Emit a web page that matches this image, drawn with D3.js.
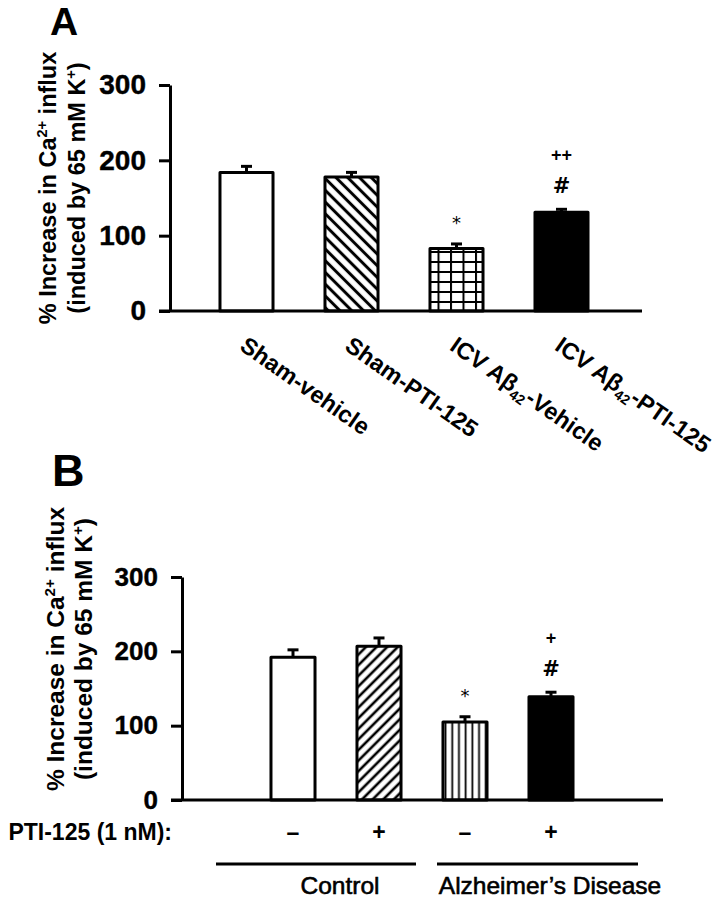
<!DOCTYPE html>
<html>
<head>
<meta charset="utf-8">
<script src="https://cdn.jsdelivr.net/npm/d3@7/dist/d3.min.js"></script>
<style>
  html, body { margin: 0; padding: 0; background: #fff; }
  svg { display: block; font-family: "Liberation Sans", Arial, sans-serif; }
</style>
</head>
<body>
<script>
// ---------- Data ----------
const categoriesA = ["Sham-vehicle", "Sham-PTI-125", "ICV Aβ42-Vehicle", "ICV Aβ42-PTI-125"];
const valuesA = [184, 178, 83, 131];
const errorsA = [8, 6, 6, 4];
const sigLowA = ["", "", "*", "#"];
const sigHighA = ["", "", "", "++"];
const fillsA = ["white", "diagDown", "grid", "black"];

const categoriesB = ["c-", "c+", "ad-", "ad+"];
const treatmentB = ["–", "+", "–", "+"];
const valuesB = [192, 207, 105, 139];
const errorsB = [10, 11, 7, 6];
const sigLowB = ["", "", "*", "#"];
const sigHighB = ["", "", "", "+"];
const fillsB = ["white", "diagUp", "vert", "black"];
const groupsB = ["Control", "Alzheimer’s Disease"];

const yTicks = [0, 100, 200, 300];

// ---------- SVG ----------
const W = 722, H = 899;
const svg = d3.select("body").append("svg").attr("width", W).attr("height", H);
const defs = svg.append("defs");

function linePattern(id, spacing, angle, sw) {
  const p = defs.append("pattern").attr("id", id)
    .attr("patternUnits", "userSpaceOnUse")
    .attr("width", spacing).attr("height", spacing)
    .attr("patternTransform", `rotate(${angle})`);
  p.append("rect").attr("width", spacing).attr("height", spacing).attr("fill", "white");
  p.append("line").attr("x1", spacing / 2).attr("y1", 0).attr("x2", spacing / 2).attr("y2", spacing)
    .attr("stroke", "black").attr("stroke-width", sw);
}
linePattern("diagDown", 8.3, -45, 3);
linePattern("diagUp", 7.5, 45, 2.6);
linePattern("vert", 6.7, 0, 1.8);
{
  const p = defs.append("pattern").attr("id", "grid")
    .attr("patternUnits", "userSpaceOnUse").attr("width", 12.5).attr("height", 10)
    .attr("x", 0).attr("y", 1);
  p.append("rect").attr("width", 12.5).attr("height", 10).attr("fill", "white");
  p.append("line").attr("x1", 1).attr("y1", 0).attr("x2", 1).attr("y2", 10).attr("stroke", "black").attr("stroke-width", 2);
  p.append("line").attr("x1", 0).attr("y1", 1).attr("x2", 12.5).attr("y2", 1).attr("stroke", "black").attr("stroke-width", 2);
}
function fillOf(f) { return (f === "white" || f === "black") ? f : `url(#${f})`; }

function yTitle(g, cy, l1x, l2x, fs) {
  const t1 = g.append("text").attr("transform", `translate(${l1x},${cy}) rotate(-90)`)
    .attr("text-anchor", "middle").attr("font-weight", "bold").attr("font-size", fs);
  t1.append("tspan").text("% Increase in Ca");
  t1.append("tspan").attr("font-size", fs * 0.62).attr("dy", -fs * 0.38).text("2+");
  t1.append("tspan").attr("dy", fs * 0.38).text(" influx");
  const t2 = g.append("text").attr("transform", `translate(${l2x},${cy}) rotate(-90)`)
    .attr("text-anchor", "middle").attr("font-weight", "bold").attr("font-size", fs);
  t2.append("tspan").text("(induced by 65 mM K");
  t2.append("tspan").attr("font-size", fs * 0.62).attr("dy", -fs * 0.38).text("+");
  t2.append("tspan").attr("dy", fs * 0.38).text(")");
}

function panel(opts) {
  const { cats, vals, errs, fills, sigLow, sigHigh, xRange, yRange, pi, po,
          tickFont, axisRight, letter, letterPos, letterSize } = opts;
  const g = svg.append("g");
  const x = d3.scaleBand().domain(cats).range(xRange).paddingInner(pi).paddingOuter(po);
  const y = d3.scaleLinear().domain([0, 300]).range(yRange);
  const bw = x.bandwidth();

  // y axis
  const ya = g.append("g").attr("transform", `translate(${opts.axisX},0)`)
    .call(d3.axisLeft(y).tickValues(yTicks).tickSize(11).tickSizeOuter(0).tickPadding(13).tickFormat(d3.format("d")));
  ya.selectAll("path, line").attr("stroke", "black").attr("stroke-width", 3);
  ya.selectAll("text").attr("font-size", tickFont).attr("font-weight", "bold")
    .attr("font-family", "Liberation Sans, Arial, sans-serif").attr("fill", "black")
    .attr("stroke", "black").attr("stroke-width", 0.4);

  // bars
  cats.forEach((c, i) => {
    const x0 = x(c), top = y(vals[i]), ye = y(vals[i] + errs[i]);
    const cx = x0 + bw / 2;
    g.append("line").attr("x1", cx).attr("x2", cx).attr("y1", top).attr("y2", ye)
      .attr("stroke", "black").attr("stroke-width", 3);
    g.append("line").attr("x1", cx - 5.5).attr("x2", cx + 5.5).attr("y1", ye).attr("y2", ye)
      .attr("stroke", "black").attr("stroke-width", 3);
    g.append("rect").attr("x", x0).attr("y", top).attr("width", bw).attr("height", y(0) - top)
      .attr("fill", fillOf(fills[i])).attr("stroke", "black").attr("stroke-width", 3)
      .attr("stroke-linejoin", "round");
    if (sigLow[i]) {
      const isStar = sigLow[i] === "*";
      g.append("text").attr("x", cx).attr("y", ye - (isStar ? 15 : 16))
        .attr("text-anchor", "middle").attr("font-size", isStar ? 18 : 21)
        .attr("font-family", "DejaVu Sans, sans-serif")
        .attr("font-weight", isStar ? "normal" : "bold").text(sigLow[i]);
    }
    if (sigHigh[i]) {
      g.append("text").attr("x", cx).attr("y", ye - 48)
        .attr("text-anchor", "middle").attr("font-size", 18).attr("font-weight", "bold")
        .text(sigHigh[i]);
    }
  });

  // x axis line
  g.append("line").attr("x1", opts.axisX - 11).attr("x2", axisRight)
    .attr("y1", y(0)).attr("y2", y(0)).attr("stroke", "black").attr("stroke-width", 3);

  // panel letter
  g.append("text").attr("x", letterPos[0]).attr("y", letterPos[1])
    .attr("font-size", letterSize).attr("font-weight", "bold").text(letter);

  return { g, x, y, bw };
}

// ---------- Panel A ----------
const A = panel({
  cats: categoriesA, vals: valuesA, errs: errorsA, fills: fillsA,
  sigLow: sigLowA, sigHigh: sigHighA,
  xRange: [194, 614], yRange: [311, 85], pi: 0.495, po: 0.2475,
  axisX: 170, axisRight: 642, tickFont: 28,
  letter: "A", letterPos: [50, 35], letterSize: 39
});
yTitle(A.g, 188, 56, 85, 23.5);
categoriesA.forEach((c) => {
  const cx = A.x(c) + A.bw / 2;
  const t = A.g.append("text").attr("transform", `translate(${cx - 8},349) rotate(35)`)
    .attr("font-size", 23.5).attr("font-weight", "bold");
  const m = c.match(/^(.*β)(42)(.*)$/);
  if (m) {
    t.append("tspan").text(m[1]);
    t.append("tspan").attr("font-size", 14).attr("dy", 5).text(m[2]);
    t.append("tspan").attr("dy", -5).text(m[3]);
  } else {
    t.text(c);
  }
});

// ---------- Panel B ----------
const B = panel({
  cats: categoriesB, vals: valuesB, errs: errorsB, fills: fillsB,
  sigLow: sigLowB, sigHigh: sigHighB,
  xRange: [250, 594], yRange: [800, 577], pi: 0.488, po: 0.244,
  axisX: 182, axisRight: 663, tickFont: 26,
  letter: "B", letterPos: [52, 486], letterSize: 45
});
yTitle(B.g, 649, 64, 92, 24.5);

B.g.append("text").attr("x", 172).attr("y", 840).attr("text-anchor", "end")
  .attr("font-size", 23).attr("font-weight", "bold").text("PTI-125 (1 nM):");
categoriesB.forEach((c, i) => {
  B.g.append("text").attr("x", B.x(c) + B.bw / 2).attr("y", 840).attr("text-anchor", "middle")
    .attr("font-size", 23).attr("font-weight", "bold").text(treatmentB[i]);
});
// group brackets
const brackets = [[216, 416, 340], [437, 638, 550]];
groupsB.forEach((gname, i) => {
  const [a, b, tc] = brackets[i];
  B.g.append("line").attr("x1", a).attr("x2", b).attr("y1", 864).attr("y2", 864)
    .attr("stroke", "black").attr("stroke-width", 3);
  B.g.append("text").attr("x", tc).attr("y", 894).attr("text-anchor", "middle")
    .attr("font-size", 24.5).attr("stroke", "black").attr("stroke-width", 0.6).text(gname);
});
</script>
</body>
</html>
